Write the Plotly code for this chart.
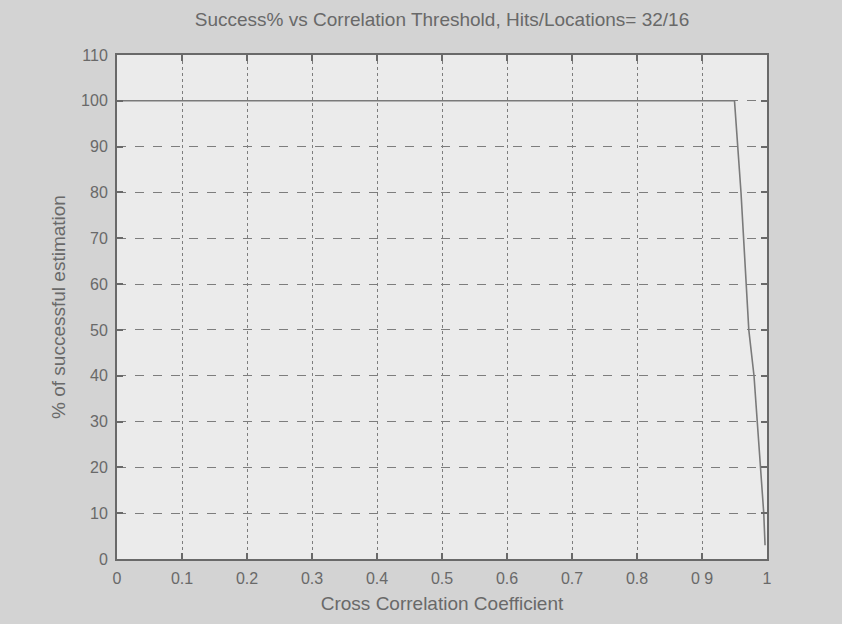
import plotly.graph_objects as go

# umbral de correlación vs porcentaje de aciertos
threshold = [0.0, 0.95, 0.96, 0.968, 0.972, 0.98, 0.985, 0.989, 0.995, 0.997]
success = [100, 100, 80, 60, 50, 40, 30, 20, 10, 3]

x_ticks = [0, 0.1, 0.2, 0.3, 0.4, 0.5, 0.6, 0.7, 0.8, 0.9, 1]
x_labels = ['0', '0.1', '0.2', '0.3', '0.4', '0.5', '0.6', '0.7', '0.8', '0 9', '1']
y_ticks = list(range(0, 111, 10))

ink = '#696969'
font = 'Liberation Sans, Arial, sans-serif'

fig = go.Figure()
fig.add_trace(go.Scatter(
    x=threshold,
    y=success,
    mode='lines',
    line=dict(color='#7a7a7a', width=1.6),
    showlegend=False
))

fig.update_layout(
    width=842,
    height=624,
    paper_bgcolor='#d3d3d3',
    plot_bgcolor='#ebebeb',
    margin=dict(l=117, r=75, t=55, b=65),
    font=dict(family=font, size=16, color=ink),
    title=dict(
        text='Success% vs Correlation Threshold, Hits/Locations= 32/16',
        x=(117 + 767) / 2 / 842, xanchor='center',
        y=1 - 19 / 624, yanchor='middle',
        font=dict(size=19, color=ink)
    ),
    xaxis=dict(
        range=[0, 1], tickvals=x_ticks, ticktext=x_labels,
        showgrid=True, gridcolor='#7d7d7d', griddash='dot', gridwidth=1,
        showline=True, linecolor=ink, linewidth=2, mirror='ticks',
        ticks='inside', ticklen=6, tickcolor=ink, tickwidth=1.5,
        zeroline=False, ticklabelstandoff=4,
        title=dict(text='Cross Correlation Coefficient', standoff=10, font=dict(size=19))
    ),
    yaxis=dict(
        range=[0, 110], tickvals=y_ticks,
        showgrid=True, gridcolor='#7d7d7d', griddash='dash', gridwidth=1,
        showline=True, linecolor=ink, linewidth=2, mirror='ticks',
        ticks='inside', ticklen=6, tickcolor=ink, tickwidth=1.5,
        zeroline=False, ticklabelstandoff=4,
        title=dict(text='% of successful estimation', standoff=10, font=dict(size=19))
    )
)

fig.write_html(
    'out.html',
    config={'displayModeBar': False},
    post_script="document.body.style.margin='0';document.body.style.background='#d3d3d3';"
)
